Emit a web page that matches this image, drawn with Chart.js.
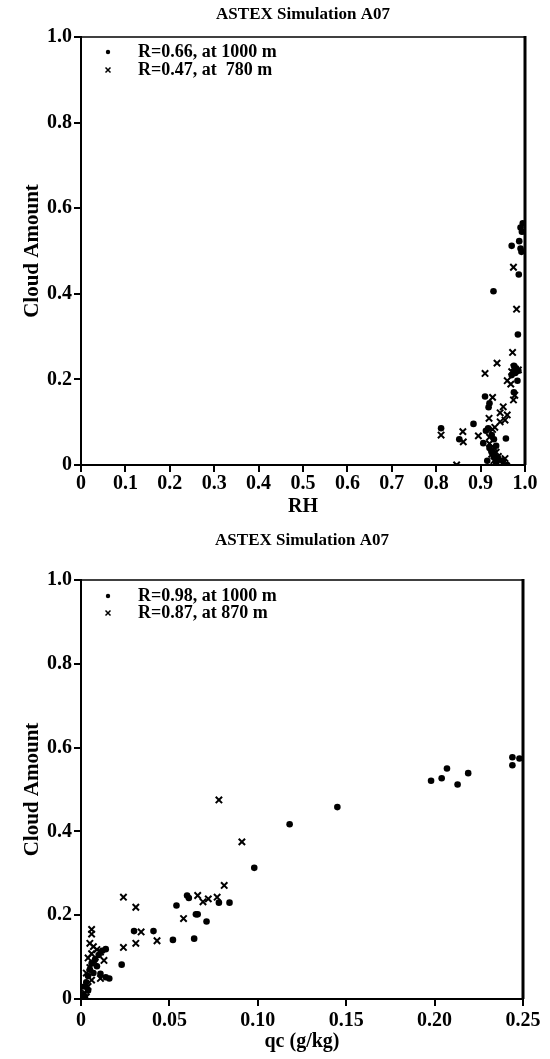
<!DOCTYPE html>
<html>
<head>
<meta charset="utf-8">
<script src="https://cdn.jsdelivr.net/npm/chart.js@4.4.1/dist/chart.umd.min.js"></script>
<style>
  body { margin: 0; background: #fff; }
  .panel { position: relative; width: 550px; }
  #topPanel { height: 520px; }
  #botPanel { height: 539px; }
</style>
</head>
<body>
<div class="panel" id="topPanel"><canvas id="rhChart"></canvas></div>
<div class="panel" id="botPanel"><canvas id="qcChart"></canvas></div>
<script>
// ===== DATA =====
const chartTitle = 'ASTEX Simulation A07';
const yTicks = [0, 0.2, 0.4, 0.6, 0.8, 1.0];
const yTickLabels = ['0', '0.2', '0.4', '0.6', '0.8', '1.0'];

// top panel: cloud amount vs RH
const rhTicks = [0, 0.1, 0.2, 0.3, 0.4, 0.5, 0.6, 0.7, 0.8, 0.9, 1.0];
const rhTickLabels = ['0', '0.1', '0.2', '0.3', '0.4', '0.5', '0.6', '0.7', '0.8', '0.9', '1.0'];
const rhLegend = ['R=0.66, at 1000 m', 'R=0.47, at  780 m'];
const rhDots = [
  [0.995, 0.565], [0.99, 0.555], [0.993, 0.545], [0.97, 0.512], [0.987, 0.523], [0.99, 0.506],
  [0.992, 0.498], [0.986, 0.445], [0.929, 0.406], [0.984, 0.305], [0.975, 0.232], [0.98, 0.226],
  [0.985, 0.22], [0.978, 0.215], [0.983, 0.197], [0.91, 0.16], [0.92, 0.144], [0.918, 0.135],
  [0.884, 0.096], [0.811, 0.086], [0.852, 0.06], [0.912, 0.08], [0.917, 0.086], [0.957, 0.062],
  [0.906, 0.051], [0.92, 0.04], [0.925, 0.03], [0.93, 0.02], [0.94, 0.015], [0.915, 0.01],
  [0.935, 0.005], [0.95, 0.01], [0.93, 0.06], [0.925, 0.07], [0.935, 0.045], [0.96, 0.0],
  [0.975, 0.17], [0.97, 0.21]
];
const rhCrosses = [
  [0.974, 0.462], [0.981, 0.364], [0.972, 0.263], [0.937, 0.238], [0.975, 0.228], [0.985, 0.222],
  [0.97, 0.218], [0.91, 0.214], [0.96, 0.197], [0.968, 0.189], [0.977, 0.163], [0.974, 0.152],
  [0.927, 0.158], [0.951, 0.136], [0.944, 0.122], [0.96, 0.117], [0.955, 0.105], [0.919, 0.109],
  [0.944, 0.101], [0.932, 0.088], [0.927, 0.083], [0.811, 0.07], [0.86, 0.078], [0.861, 0.054],
  [0.895, 0.068], [0.92, 0.05], [0.93, 0.04], [0.935, 0.03], [0.94, 0.02], [0.945, 0.01],
  [0.955, 0.015], [0.925, 0.025], [0.93, 0.01], [0.95, 0.005], [0.846, 0.0], [0.92, 0.065]
];

// bottom panel: cloud amount vs qc
const qcTicks = [0, 0.05, 0.10, 0.15, 0.20, 0.25];
const qcTickLabels = ['0', '0.05', '0.10', '0.15', '0.20', '0.25'];
const qcLegend = ['R=0.98, at 1000 m', 'R=0.87, at 870 m'];
const qcDots = [
  [0.244, 0.577], [0.248, 0.574], [0.244, 0.558], [0.207, 0.55], [0.219, 0.539], [0.204, 0.527],
  [0.198, 0.521], [0.213, 0.512], [0.145, 0.458], [0.118, 0.417], [0.098, 0.313], [0.06, 0.247],
  [0.061, 0.241], [0.078, 0.23], [0.084, 0.23], [0.054, 0.223], [0.065, 0.202], [0.066, 0.202],
  [0.071, 0.185], [0.03, 0.162], [0.041, 0.162], [0.052, 0.141], [0.064, 0.144], [0.023, 0.082],
  [0.016, 0.049], [0.014, 0.119], [0.012, 0.115], [0.01, 0.105], [0.008, 0.095], [0.006, 0.085],
  [0.009, 0.078], [0.005, 0.07], [0.007, 0.062], [0.004, 0.055], [0.011, 0.06], [0.014, 0.052],
  [0.003, 0.04], [0.002, 0.03], [0.004, 0.02], [0.001, 0.01], [0.002, 0.005]
];
const qcCrosses = [
  [0.078, 0.475], [0.091, 0.375], [0.081, 0.271], [0.024, 0.243], [0.066, 0.247], [0.069, 0.232],
  [0.072, 0.239], [0.077, 0.243], [0.031, 0.219], [0.058, 0.192], [0.034, 0.16], [0.031, 0.133],
  [0.043, 0.139], [0.024, 0.123], [0.006, 0.166], [0.006, 0.155], [0.005, 0.133], [0.007, 0.125],
  [0.009, 0.118], [0.011, 0.112], [0.006, 0.108], [0.004, 0.098], [0.008, 0.088], [0.011, 0.049],
  [0.005, 0.075], [0.003, 0.062], [0.006, 0.045], [0.004, 0.03], [0.002, 0.015], [0.003, 0.005],
  [0.013, 0.092]
];

// ===== CHART SETUP =====
Chart.defaults.font.family = "'Liberation Serif', 'DejaVu Serif', serif";
Chart.defaults.font.weight = 'bold';
Chart.defaults.color = '#000';

const toPts = arr => arr.map(p => ({ x: p[0], y: p[1] }));

// title, in-plot legend and the box frame
const figText = {
  id: 'figText',
  afterDraw(chart, args, opts) {
    const { ctx, chartArea: a } = chart;
    ctx.save();
    ctx.fillStyle = '#000';
    ctx.strokeStyle = '#000';
    ctx.font = "bold 17px 'Liberation Serif'";
    ctx.textAlign = 'center';
    ctx.textBaseline = 'middle';
    ctx.fillText(opts.title, (a.left + a.right) / 2, opts.titleY);
    // frame: top thin, right heavy
    ctx.lineWidth = 1.5;
    ctx.beginPath(); ctx.moveTo(a.left, a.top); ctx.lineTo(a.right, a.top); ctx.stroke();
    ctx.lineWidth = 3;
    ctx.beginPath(); ctx.moveTo(a.right, a.top - 1); ctx.lineTo(a.right, a.bottom); ctx.stroke();
    // legend
    ctx.font = "bold 18px 'Liberation Serif'";
    ctx.textAlign = 'left';
    opts.legend.forEach((txt, i) => {
      const y = a.top + opts.legendY[i];
      const mx = a.left + 27;
      if (i === 0) {
        ctx.beginPath(); ctx.arc(mx, y, 2.2, 0, Math.PI * 2); ctx.fill();
      } else {
        ctx.lineWidth = 1.5;
        ctx.beginPath();
        ctx.moveTo(mx - 2.5, y - 2.5); ctx.lineTo(mx + 2.5, y + 2.5);
        ctx.moveTo(mx + 2.5, y - 2.5); ctx.lineTo(mx - 2.5, y + 2.5);
        ctx.stroke();
      }
      ctx.fillText(txt, a.left + 57, y);
    });
    ctx.restore();
  }
};

function makeChart(id, cfg) {
  const axisGrid = { drawOnChartArea: false, drawTicks: true, tickLength: 7, lineWidth: 2, color: '#000' };
  return new Chart(document.getElementById(id), {
    type: 'scatter',
    data: {
      datasets: [
        { data: toPts(cfg.dots), pointStyle: 'circle', pointRadius: 3.3, backgroundColor: '#000', borderColor: '#000', borderWidth: 0 },
        { data: toPts(cfg.crosses), pointStyle: 'crossRot', pointRadius: 4.5, borderColor: '#000', borderWidth: 2 }
      ]
    },
    options: {
      responsive: true, maintainAspectRatio: false, animation: false,
      layout: { padding: { top: cfg.plotTop, right: cfg.padRight, left: 0, bottom: 0 } },
      plugins: {
        legend: { display: false }, tooltip: { enabled: false },
        figText: { title: chartTitle, titleY: cfg.titleY, legend: cfg.legend, legendY: cfg.legendY }
      },
      scales: {
        x: {
          type: 'linear', min: 0, max: cfg.xMax,
          afterBuildTicks: s => { s.ticks = cfg.xTicks.map(v => ({ value: v })); },
          afterFit: s => { s.height = cfg.xAxisH; },
          ticks: { padding: cfg.xTickPad, font: { size: 20 }, maxRotation: 0, callback: (v, i) => cfg.xLabels[i] },
          grid: axisGrid,
          border: { display: true, color: '#000', width: 2 },
          title: { display: true, text: cfg.xTitle, font: { size: 20, lineHeight: 1 }, padding: { top: 0, bottom: cfg.xTitlePad } }
        },
        y: {
          type: 'linear', min: 0, max: 1,
          afterBuildTicks: s => { s.ticks = yTicks.map(v => ({ value: v })); },
          afterFit: s => { s.width = 81; },
          ticks: { padding: 2, font: { size: 20 }, callback: (v, i) => yTickLabels[i] },
          grid: axisGrid,
          border: { display: true, color: '#000', width: 2 },
          title: { display: true, text: 'Cloud Amount', font: { size: 21, lineHeight: 1 }, padding: { top: 22, bottom: 0 } }
        }
      }
    },
    plugins: [figText]
  });
}

makeChart('rhChart', {
  dots: rhDots, crosses: rhCrosses, xMax: 1.0, xTicks: rhTicks, xLabels: rhTickLabels, xTitle: 'RH',
  plotTop: 37, padRight: 25, xAxisH: 55, xTickPad: 0, xTitlePad: 3, titleY: 15,
  legend: rhLegend, legendY: [15, 33]
});

makeChart('qcChart', {
  dots: qcDots, crosses: qcCrosses, xMax: 0.25, xTicks: qcTicks, xLabels: qcTickLabels, xTitle: 'qc (g/kg)',
  plotTop: 60, padRight: 27, xAxisH: 60, xTickPad: 3, xTitlePad: 7, titleY: 21,
  legend: qcLegend, legendY: [16, 33]
});
</script>
</body>
</html>
